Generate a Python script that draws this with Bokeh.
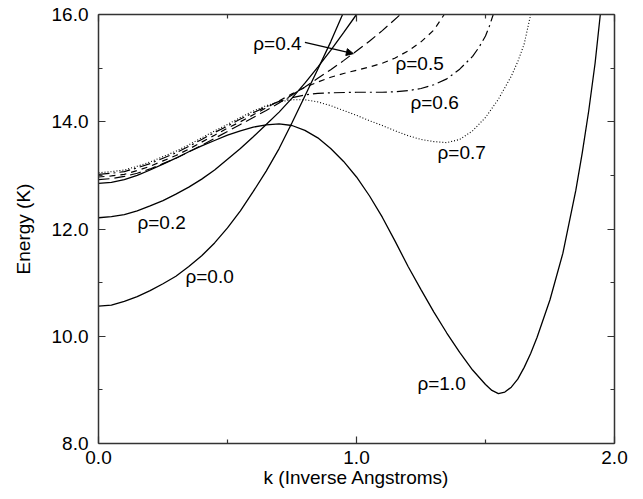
from bokeh.plotting import figure
from bokeh.models import (Range1d, FixedTicker, PrintfTickFormatter, LinearAxis,
                          Arrow, NormalHead, ColumnDataSource, CustomJSTickFormatter)
from bokeh.core.properties import value
from bokeh.embed import file_html
from bokeh.resources import INLINE

# ---------------- data ----------------
rho00_k = [0.0, 0.05, 0.1, 0.15, 0.2, 0.25, 0.3, 0.35, 0.4, 0.45, 0.5, 0.55, 0.6, 0.65, 0.7,
           0.75, 0.8, 0.85, 0.9, 0.946]
rho00_e = [10.56, 10.58, 10.65, 10.74, 10.85, 10.98, 11.12, 11.30, 11.50, 11.74, 12.02, 12.34,
           12.70, 13.08, 13.50, 13.98, 14.48, 14.98, 15.49, 16.0]

rho02_k = [0.0, 0.05, 0.1, 0.15, 0.2, 0.25, 0.3, 0.35, 0.4, 0.45, 0.5, 0.55, 0.6, 0.65, 0.7,
           0.75, 0.8, 0.85, 0.9, 0.95, 1.0]
rho02_e = [12.21, 12.23, 12.27, 12.34, 12.43, 12.53, 12.65, 12.78, 12.93, 13.10, 13.30, 13.50,
           13.72, 13.95, 14.18, 14.44, 14.72, 15.02, 15.33, 15.66, 16.0]

rho04_k = [0.0, 0.05, 0.1, 0.15, 0.2, 0.25, 0.3, 0.35, 0.4, 0.45, 0.5, 0.55, 0.6, 0.65, 0.7,
           0.75, 0.8, 0.85, 0.9, 0.95, 1.0, 1.05, 1.1, 1.17]
rho04_e = [12.92, 12.94, 12.98, 13.04, 13.12, 13.22, 13.32, 13.44, 13.56, 13.69, 13.82, 13.95,
           14.08, 14.21, 14.35, 14.50, 14.65, 14.81, 14.97, 15.14, 15.32, 15.50, 15.70, 16.0]

rho05_k = [0.0, 0.05, 0.1, 0.15, 0.2, 0.25, 0.3, 0.35, 0.4, 0.45, 0.5, 0.55, 0.6, 0.65, 0.7,
           0.75, 0.8, 0.85, 0.9, 0.95, 1.0, 1.05, 1.1, 1.15, 1.2, 1.25, 1.3, 1.34]
rho05_e = [12.97, 12.99, 13.02, 13.09, 13.17, 13.27, 13.37, 13.49, 13.62, 13.75, 13.88, 14.00,
           14.13, 14.26, 14.39, 14.52, 14.64, 14.74, 14.83, 14.90, 14.96, 15.02, 15.09, 15.19,
           15.32, 15.49, 15.71, 16.0]

rho06_k = [0.0, 0.05, 0.1, 0.15, 0.2, 0.25, 0.3, 0.35, 0.4, 0.45, 0.5, 0.55, 0.6, 0.65, 0.7,
           0.75, 0.8, 0.85, 0.9, 1.0, 1.1, 1.15, 1.2, 1.25, 1.3, 1.35, 1.4, 1.45, 1.475, 1.5,
           1.515, 1.53]
rho06_e = [13.02, 13.04, 13.07, 13.14, 13.22, 13.32, 13.42, 13.54, 13.67, 13.80, 13.92, 14.05,
           14.17, 14.28, 14.38, 14.45, 14.50, 14.53, 14.54, 14.55, 14.55, 14.56, 14.58, 14.62,
           14.69, 14.80, 14.98, 15.22, 15.39, 15.60, 15.78, 16.0]

rho07_k = [0.0, 0.05, 0.1, 0.15, 0.2, 0.25, 0.3, 0.35, 0.4, 0.45, 0.5, 0.55, 0.6, 0.65, 0.7,
           0.75, 0.8, 0.85, 0.9, 0.95, 1.0, 1.05, 1.1, 1.15, 1.2, 1.25, 1.3, 1.35, 1.4, 1.45,
           1.5, 1.55, 1.6, 1.625, 1.65, 1.675]
rho07_e = [13.05, 13.07, 13.10, 13.17, 13.25, 13.35, 13.45, 13.57, 13.70, 13.83, 13.95, 14.08,
           14.20, 14.30, 14.37, 14.41, 14.41, 14.37, 14.30, 14.21, 14.12, 14.02, 13.93, 13.83,
           13.74, 13.67, 13.63, 13.61, 13.67, 13.83, 14.08, 14.42, 14.85, 15.12, 15.45, 16.0]

rho10_k = [0.0, 0.05, 0.1, 0.15, 0.2, 0.25, 0.3, 0.35, 0.4, 0.45, 0.5, 0.55, 0.6, 0.65, 0.7,
           0.75, 0.8, 0.85, 0.9, 0.95, 1.0, 1.05, 1.1, 1.15, 1.2, 1.25, 1.3, 1.35, 1.4, 1.45,
           1.5, 1.525, 1.55, 1.575, 1.6, 1.625, 1.65, 1.675, 1.7, 1.75, 1.8, 1.85, 1.875, 1.9,
           1.925, 1.945]
rho10_e = [12.85, 12.87, 12.92, 13.00, 13.10, 13.21, 13.32, 13.44, 13.55, 13.65, 13.75, 13.83,
           13.90, 13.94, 13.96, 13.93, 13.84, 13.70, 13.50, 13.26, 12.97, 12.62, 12.22, 11.77,
           11.30, 10.87, 10.45, 10.06, 9.70, 9.37, 9.10, 8.99, 8.93, 8.96, 9.05, 9.20, 9.42,
           9.68, 9.98, 10.68, 11.55, 12.72, 13.42, 14.20, 15.10, 16.0]

label_texts = ["\u03c1=0.4", "\u03c1=0.5", "\u03c1=0.6", "\u03c1=0.7", "\u03c1=0.2", "\u03c1=0.0", "\u03c1=1.0"]
label_k = [0.60, 1.151, 1.209, 1.314, 0.151, 0.337, 1.236]
label_e = [15.46, 15.09, 14.36, 13.43, 12.12, 11.12, 9.12]

x_ticks = [0.0, 1.0, 2.0]
x_minor = [0.5, 1.5]
y_ticks = [8.0, 10.0, 12.0, 14.0, 16.0]
y_minor = [9.0, 11.0, 13.0, 15.0]

FONT = "Liberation Sans"
AX = "#333333"

p = figure(width=643, height=499, output_backend="svg", toolbar_location=None,
           x_range=Range1d(0, 2), y_range=Range1d(8, 16),
           min_border_left=98, min_border_right=29, min_border_top=14, min_border_bottom=56)
p.background_fill_color = "white"
p.border_fill_color = "white"
p.outline_line_color = None
p.grid.visible = False

def style_axis(ax, ticks, minor, show_labels):
    ax.ticker = FixedTicker(ticks=ticks, minor_ticks=minor)
    ax.axis_line_color = AX
    ax.axis_line_width = 1.5
    ax.major_tick_line_color = AX
    ax.minor_tick_line_color = AX
    ax.major_tick_line_width = 1.2
    ax.minor_tick_line_width = 1.2
    ax.major_tick_in = 7
    ax.major_tick_out = 0
    ax.minor_tick_in = 4
    ax.minor_tick_out = 0
    if show_labels:
        ax.formatter = PrintfTickFormatter(format="%.1f")
        ax.major_label_text_font = FONT
        ax.major_label_text_font_size = "19px"
        ax.major_label_text_color = "black"
        ax.axis_label_text_font = FONT
        ax.axis_label_text_font_size = "19px"
        ax.axis_label_text_font_style = "normal"
        ax.axis_label_text_color = "black"
    else:
        ax.formatter = CustomJSTickFormatter(code="return '';")
        ax.major_label_standoff = 0

xa = p.xaxis[0]
style_axis(xa, x_ticks, x_minor, True)
xa.axis_label = "k (Inverse Angstroms)"
xa.major_label_standoff = 7
xa.axis_label_standoff = 0

ya = p.yaxis[0]
style_axis(ya, y_ticks, y_minor, True)
ya.axis_label = "Energy (K)"
ya.major_label_standoff = 10
ya.axis_label_standoff = 15

top = LinearAxis()
style_axis(top, x_ticks, x_minor, False)
p.add_layout(top, "above")
right = LinearAxis()
style_axis(right, y_ticks, y_minor, False)
p.add_layout(right, "right")

# ---------------- curves ----------------
p.line(rho00_k, rho00_e, line_color="black", line_width=1.3)
p.line(rho02_k, rho02_e, line_color="black", line_width=1.3)
p.line(rho10_k, rho10_e, line_color="black", line_width=1.3)
p.line(rho04_k, rho04_e, line_color="black", line_width=1.2, line_dash="11 5")
p.line(rho05_k, rho05_e, line_color="black", line_width=1.2, line_dash="6 5")
p.line(rho06_k, rho06_e, line_color="black", line_width=1.2, line_dash="11 4 2 4")
p.line(rho07_k, rho07_e, line_color="black", line_width=1.1, line_dash="1 2")

# ---------------- labels ----------------
src = ColumnDataSource(dict(x=label_k, y=label_e, t=label_texts))
p.text(x="x", y="y", text="t", source=src, text_font=value(FONT),
       text_font_size="19px", text_color="black", text_align="left",
       text_baseline="middle")

p.add_layout(Arrow(end=NormalHead(size=7, fill_color="black", line_color="black"),
                   x_start=0.80, y_start=15.48, x_end=0.988, y_end=15.27,
                   line_color="black", line_width=1.2))

open("out.html", "w").write(file_html(p, INLINE))
